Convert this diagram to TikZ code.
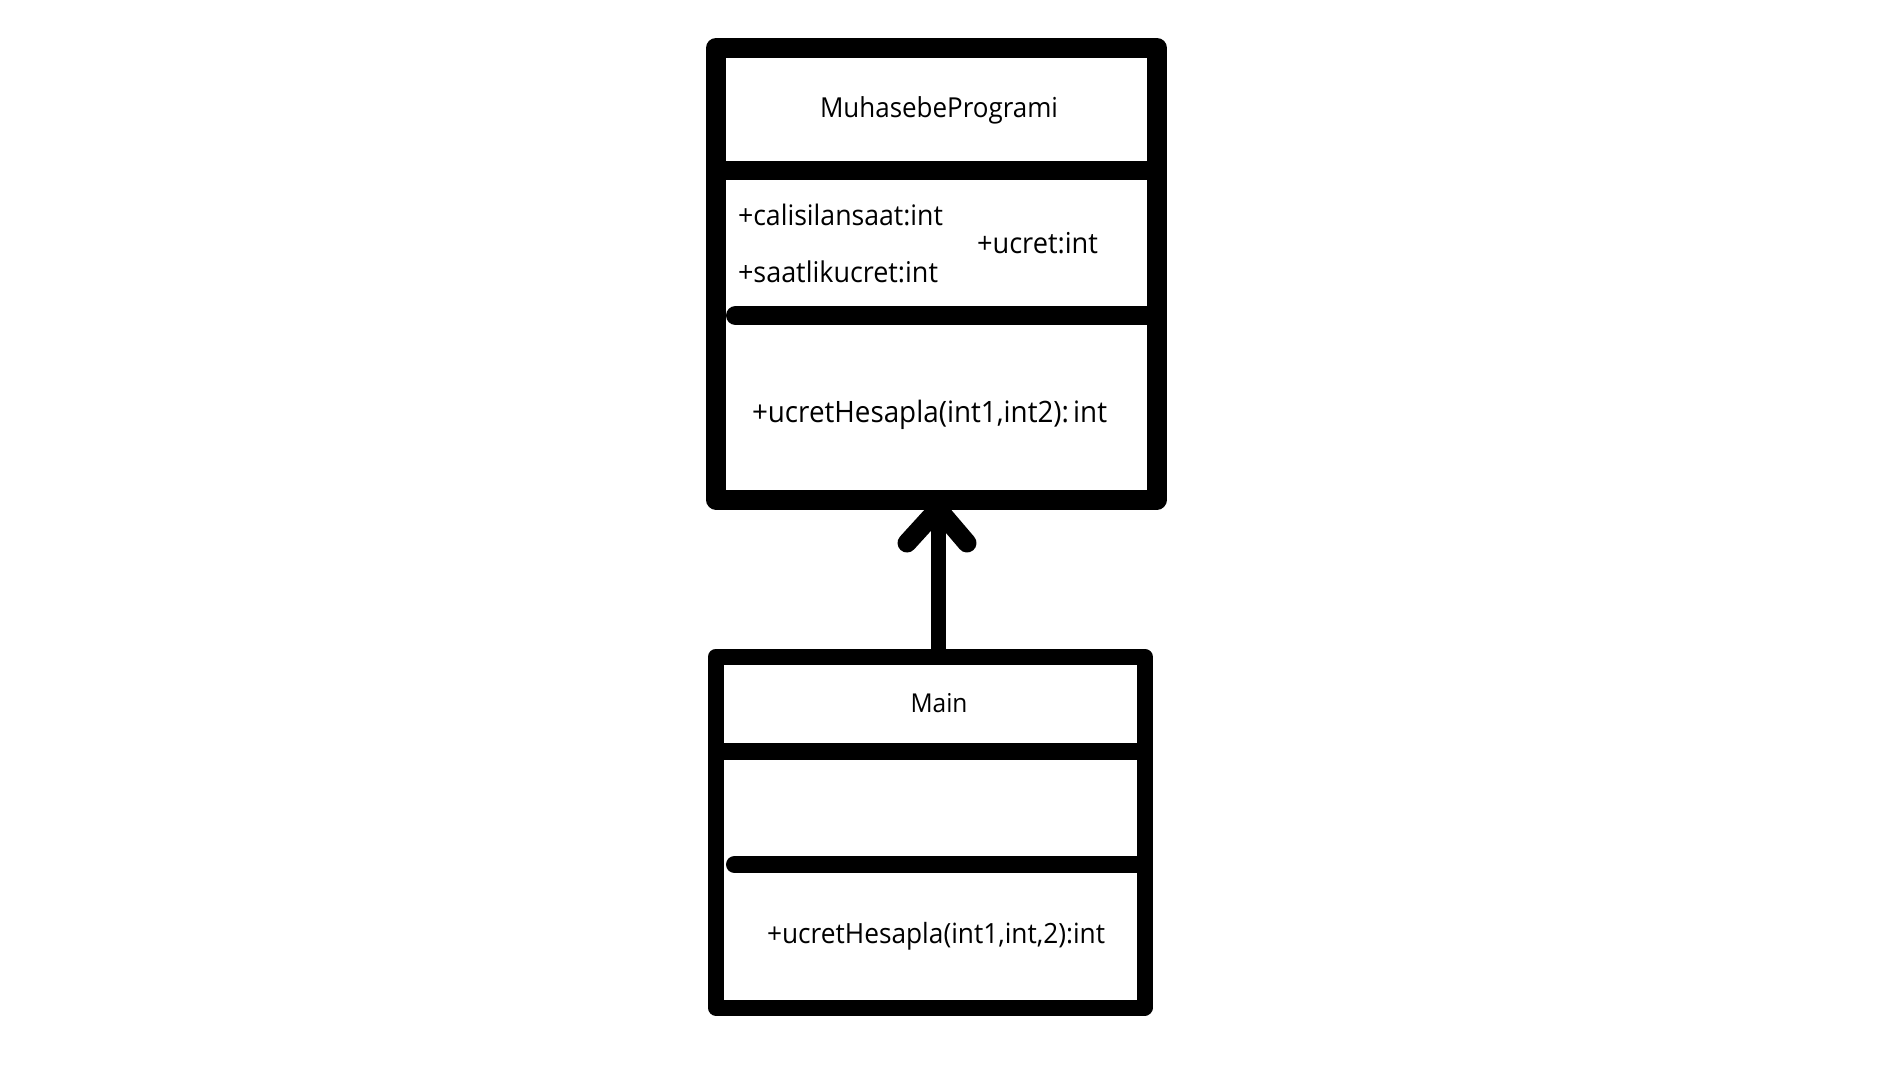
\documentclass[tikz,border=0pt]{standalone}
\usepackage{fontspec}
\setmainfont{Open Sans}
\usepackage{graphicx}
\newcommand{\fittext}[2]{\scalebox{1}[1.06]{\resizebox{#1}{!}{#2}}}
\begin{document}
\begin{tikzpicture}[x=1pt,y=-1pt,
  classbox/.style={draw=black, line join=round, inner sep=0pt, outer sep=0pt, anchor=north west},
  txt/.style={inner sep=0pt, outer sep=0pt, text=black},
  divider/.style={draw=black, line cap=butt},
  rdivider/.style={draw=black, line cap=round}]
\useasboundingbox[fill=white] (0,0) rectangle (1900,1080);
% upper class
\node[classbox, line width=20pt, minimum width=441pt, minimum height=451.5pt] (top) at (716,48) {};
\draw[divider, line width=19pt] (716,170.5) -- (1157,170.5);
\draw[rdivider, line width=19pt] (735.5,315.5) -- (1155,315.5);
% lower class
\node[classbox, line width=16pt, minimum width=428.5pt, minimum height=351pt] (main) at (716,656.5) {};
\draw[divider, line width=17pt] (716,751.5) -- (1144.5,751.5);
\draw[rdivider, line width=17pt] (734.5,864.5) -- (1143,864.5);
% texts
\node[txt, anchor=base] (tname) at (939,117) {\fittext{238pt}{MuhasebeProgrami}};
\node[txt, anchor=base west] (a1) at (738,225) {\fittext{205pt}{+calisilansaat:int}};
\node[txt, anchor=base west] (a2) at (738,282) {\fittext{200pt}{+saatlikucret:int}};
\node[txt, anchor=base west] (a3) at (977,253) {\fittext{121pt}{+ucret:int}};
\node[txt, anchor=base west] (m1) at (752,422) {\fittext{355pt}{+ucretHesapla(int1,int2):\kern-2pt{} int}};
\node[txt, anchor=base] (mname) at (939,712) {\fittext{57pt}{Main}};
\node[txt, anchor=base west] (m2) at (767,943) {\fittext{338pt}{+ucretHesapla(int1,int,2):int}};
% inheritance arrow
\coordinate (tip) at (938,509);
\draw[line width=15pt] (main.north -| tip) -- (tip);
\draw[line width=19pt, line cap=round, line join=round] (907,543) -- (tip) -- (967,543);
\end{tikzpicture}
\end{document}
